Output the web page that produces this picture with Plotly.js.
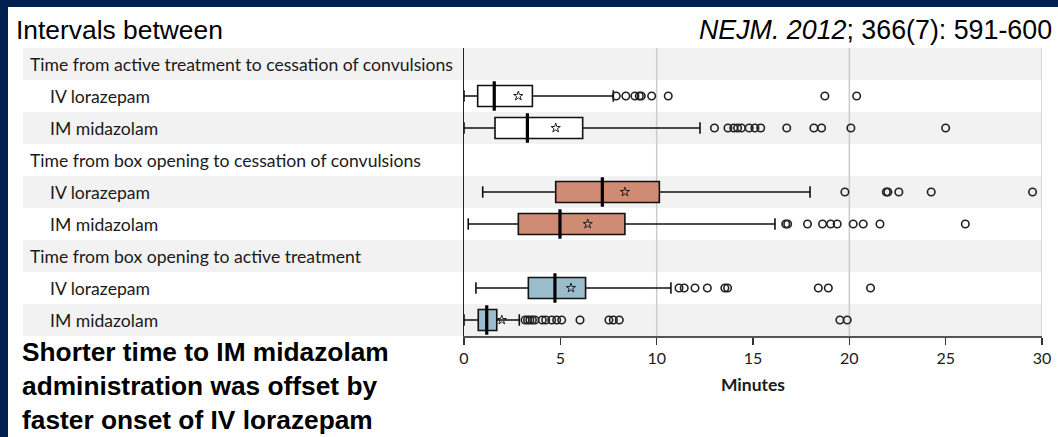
<!DOCTYPE html>
<html>
<head>
<meta charset="utf-8">
<script src="https://cdn.plot.ly/plotly-3.0.1.min.js"></script>
<style>
  html, body { margin: 0; padding: 0; background: #00214f; width: 1058px; height: 437px; overflow: hidden; }
  #chart { position: absolute; left: 8px; top: 7px; width: 1050px; height: 430px; background: #fff; }
</style>
</head>
<body>
<div id="chart"></div>
<script>
// ---- data (minutes) ----
const rowLabels = [
  'Time from active treatment to cessation of convulsions',
  'IV lorazepam',
  'IM midazolam',
  'Time from box opening to cessation of convulsions',
  'IV lorazepam',
  'IM midazolam',
  'Time from box opening to active treatment',
  'IV lorazepam',
  'IM midazolam'
];
const isHeader = [true, false, false, true, false, false, true, false, false];

// series order: active->cessation IV, IM; box->cessation IV, IM; box->active IV, IM
const seriesRow   = [1, 2, 4, 5, 7, 8];
const seriesGroup = ['white', 'white', 'orange', 'orange', 'blue', 'blue'];
const lowerFence  = [0.00, 0.00, 0.97, 0.22, 0.62, 0.00];
const q1          = [0.71, 1.61, 4.76, 2.82, 3.34, 0.74];
const median      = [1.57, 3.29, 7.18, 4.98, 4.72, 1.18];
const q3          = [3.55, 6.16, 10.14, 8.35, 6.31, 1.70];
const upperFence  = [7.75, 12.25, 17.96, 16.14, 10.74, 2.87];
const meanVal     = [2.82, 4.76, 8.35, 6.42, 5.55, 1.96];

const outliersATIV = [7.9, 8.4, 8.87, 9.1, 9.2, 9.74, 10.6, 18.73, 20.38];
const outliersATIM = [13.0, 13.7, 14.0, 14.2, 14.4, 14.8, 15.1, 15.4, 16.75, 18.16, 18.56, 20.08, 25.0];
const outliersBCIV = [19.77, 21.92, 22.0, 22.57, 24.25, 29.51];
const outliersBCIM = [16.7, 16.8, 17.83, 18.61, 19.03, 19.37, 20.2, 20.72, 21.59, 26.02];
const outliersBAIV = [11.16, 11.43, 11.99, 12.63, 13.54, 13.68, 18.39, 18.91, 21.1];
const outliersBAIM = [3.17, 3.3, 3.42, 3.55, 3.68, 4.06, 4.24, 4.55, 4.81, 5.07, 6.02, 7.52, 7.75, 8.06, 19.51, 19.89];
const outliers = [outliersATIV, outliersATIM, outliersBCIV, outliersBCIM, outliersBAIV, outliersBAIM];

const xTicks = [0, 5, 10, 15, 20, 25, 30];
const gridAt = [10, 20, 30];

const groupColors = { white: '#ffffff', orange: '#cf8b74', blue: '#9bbccd' };

// ---- traces ----
const traces = [];
['white', 'orange', 'blue'].forEach(g => {
  const idx = seriesGroup.map((s, i) => s === g ? i : -1).filter(i => i >= 0);
  traces.push({
    type: 'box', orientation: 'h',
    y: idx.map(i => seriesRow[i]),
    q1: idx.map(i => q1[i]),
    median: idx.map(i => median[i]),
    q3: idx.map(i => q3[i]),
    lowerfence: idx.map(i => lowerFence[i]),
    upperfence: idx.map(i => upperFence[i]),
    width: 0.66,
    whiskerwidth: 0.55,
    fillcolor: groupColors[g],
    line: { color: '#111', width: 1.6 },
    boxpoints: false,
    hoverinfo: 'skip',
    showlegend: false
  });
});
// thick medians
traces.push({
  type: 'scatter', mode: 'markers',
  x: median, y: seriesRow,
  marker: { symbol: 'line-ns-open', size: 21, color: '#000', line: { color: '#000', width: 3.2 } },
  hoverinfo: 'skip', showlegend: false
});
// means (stars)
traces.push({
  type: 'scatter', mode: 'markers',
  x: meanVal, y: seriesRow,
  marker: { symbol: 'star-open', size: 7, color: '#222', line: { color: '#222', width: 1 } },
  hoverinfo: 'skip', showlegend: false
});
// outliers
outliers.forEach((arr, i) => {
  traces.push({
    type: 'scatter', mode: 'markers',
    x: arr, y: arr.map(() => seriesRow[i]),
    marker: { symbol: 'circle-open', size: 7.5, color: '#222', line: { color: '#222', width: 1.6 } },
    hoverinfo: 'skip', showlegend: false
  });
});

// ---- layout helpers ----
const plotLeft = 456, plotWidth = 578;      // in div pixels
const px2paper = px => (px - plotLeft) / plotWidth;

const shapes = [];
rowLabels.forEach((lab, i) => {
  if (i % 2 === 0) {
    shapes.push({
      type: 'rect', layer: 'below', xref: 'paper', yref: 'y',
      x0: px2paper(15), x1: 1, y0: i - 0.5, y1: i + 0.5,
      fillcolor: '#f2f2f2', line: { width: 0 }
    });
  }
});
gridAt.forEach(v => {
  shapes.push({
    type: 'line', layer: 'below', xref: 'x', yref: 'paper',
    x0: v, x1: v, y0: 0, y1: 1,
    line: { color: '#cccccc', width: 1.5 }
  });
});

const annotations = rowLabels.map((lab, i) => ({
  xref: 'paper', yref: 'y',
  x: isHeader[i] ? px2paper(20) : px2paper(40),
  y: i, xanchor: 'left', yanchor: 'middle',
  text: lab, showarrow: false,
  font: { family: 'Lato', size: 17.6, color: '#1a1a1a' }
}));
annotations.push({
  xref: 'paper', yref: 'paper',
  x: px2paper(1046), y: 1 + (41 - 23) / 288, xanchor: 'right', yanchor: 'middle',
  text: '<i>NEJM. 2012</i>; 366(7): 591-600', showarrow: false,
  font: { family: 'Liberation Sans, Arial', size: 26.8, color: '#000' }
});
annotations.push({
  xref: 'paper', yref: 'paper',
  x: px2paper(12), y: 0.005, xanchor: 'left', yanchor: 'top', align: 'left',
  text: '<b>Shorter time to IM midazolam<br>administration was offset by<br>faster onset of IV lorazepam</b>',
  showarrow: false,
  font: { family: 'Liberation Sans, Arial', size: 26.3, color: '#000' }
});

const layout = {
  width: 1050, height: 430,
  margin: { l: 456, r: 16, t: 41, b: 101 },
  paper_bgcolor: '#ffffff', plot_bgcolor: 'rgba(0,0,0,0)',
  showlegend: false,
  boxmode: 'overlay',
  title: {
    text: 'Intervals between',
    xref: 'container', yref: 'container',
    x: 8 / 1050, xanchor: 'left', y: 1 - 23 / 430, yanchor: 'middle',
    font: { family: 'Liberation Sans, Arial', size: 26.4, color: '#000' }
  },
  xaxis: {
    range: [0, 30], tickvals: xTicks, ticktext: xTicks.map(String),
    ticks: 'outside', ticklen: 7, tickwidth: 1.5, tickcolor: '#333',
    showline: true, linecolor: '#555', linewidth: 2,
    showgrid: false, zeroline: false, fixedrange: true,
    tickfont: { family: 'Lato', size: 16, color: '#1a1a1a' },
    title: { text: '<b>Minutes</b>', standoff: 13, font: { family: 'Lato', size: 17.5, color: '#1a1a1a' } }
  },
  yaxis: {
    range: [8.5, -0.5], showticklabels: false, ticks: '',
    showline: true, linecolor: '#222', linewidth: 1.5,
    showgrid: false, zeroline: false, fixedrange: true
  },
  shapes: shapes,
  annotations: annotations
};

Plotly.newPlot('chart', traces, layout, { displayModeBar: false, staticPlot: true });
</script>
</body>
</html>
